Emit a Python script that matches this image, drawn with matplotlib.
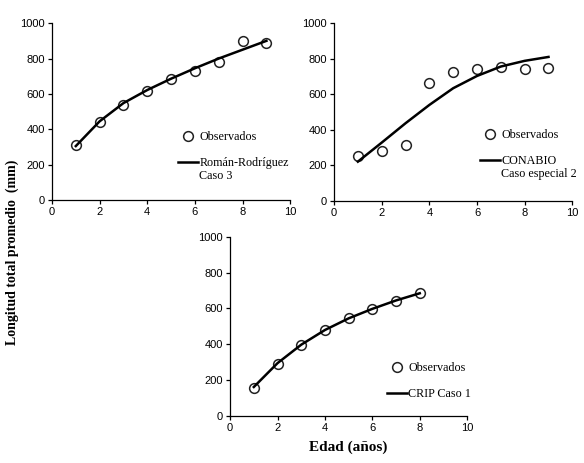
import matplotlib
matplotlib.use("Agg")
import matplotlib.pyplot as plt

# edad (años) and longitud total promedio (mm) for each panel
edad_a = [1, 2, 3, 4, 5, 6, 7, 8, 9]
obs_a = [311, 443, 538, 619, 685, 730, 781, 898, 885]
fit_a = [305, 445, 548, 622, 686, 745, 800, 850, 900]

edad_b = [1, 2, 3, 4, 5, 6, 7, 8, 9]
obs_b = [253, 281, 313, 662, 724, 741, 754, 741, 749]
fit_b = [221, 328, 437, 540, 634, 703, 756, 788, 810]

edad_c = [1, 2, 3, 4, 5, 6, 7, 8]
obs_c = [158, 292, 394, 478, 545, 595, 643, 684]
fit_c = [162, 295, 398, 480, 545, 598, 645, 685]

# (series name, second line under it)
panels = [
    (edad_a, obs_a, fit_a, "Román-Rodríguez", "Caso 3"),
    (edad_b, obs_b, fit_b, "CONABIO", "Caso especial 2"),
    (edad_c, obs_c, fit_c, "CRIP Caso 1", None),
]

# axes rectangles in figure fraction
rects = [
    [0.089, 0.568, 0.408, 0.382],
    [0.572, 0.566, 0.408, 0.384],
    [0.394, 0.1015, 0.406, 0.387],
]
legend_anchor = [(0.53, 0.39), (0.613, 0.405), (0.662, 0.302)]

serif = "Liberation Serif"
tickfont = "Liberation Sans"

fig = plt.figure(figsize=(5.84, 4.63), dpi=100)

for (x, obs, fit, label, extra), rect, anchor in zip(panels, rects, legend_anchor):
    ax = fig.add_axes(rect)
    ax.plot(x, obs, "o", mfc="none", mec="#222222", mew=1.1, ms=7, label="Observados")
    ax.plot(x, fit, "-", color="black", lw=1.8, label=label)
    ax.set_xlim(0, 10)
    ax.set_ylim(0, 1000)
    ax.set_xticks(range(0, 11, 2))
    ax.set_yticks(range(0, 1001, 200))
    for s in ("top", "right"):
        ax.spines[s].set_visible(False)
    for s in ("left", "bottom"):
        ax.spines[s].set_linewidth(0.9)
    ax.tick_params(direction="out", length=3, width=0.9, labelsize=8, pad=2)
    for t in ax.get_xticklabels() + ax.get_yticklabels():
        t.set_fontfamily(tickfont)
    leg = ax.legend(loc="upper left", bbox_to_anchor=anchor, frameon=False,
                    prop={"family": serif, "size": 8.7}, handlelength=1.65,
                    handletextpad=0.1, labelspacing=1.15, borderaxespad=0,
                    borderpad=0)
    if extra:
        # second line of the label sits under the first, handle stays on line one
        # zorder above the legend so it is drawn after the legend is laid out
        ax.annotate(extra, xy=(0, 0), xycoords=leg.get_texts()[1],
                    xytext=(0, -1), textcoords="offset points", va="top",
                    family=serif, fontsize=8.7, zorder=6)

fig.text(0.021, 0.456, "Longitud total promedio  (mm)", rotation=90,
         ha="center", va="center", family=serif, weight="bold", fontsize=10)
fig.text(0.597, 0.035, "Edad (años)", ha="center", va="center",
         family=serif, weight="bold", fontsize=11)

fig.savefig("out.png", dpi=100)
